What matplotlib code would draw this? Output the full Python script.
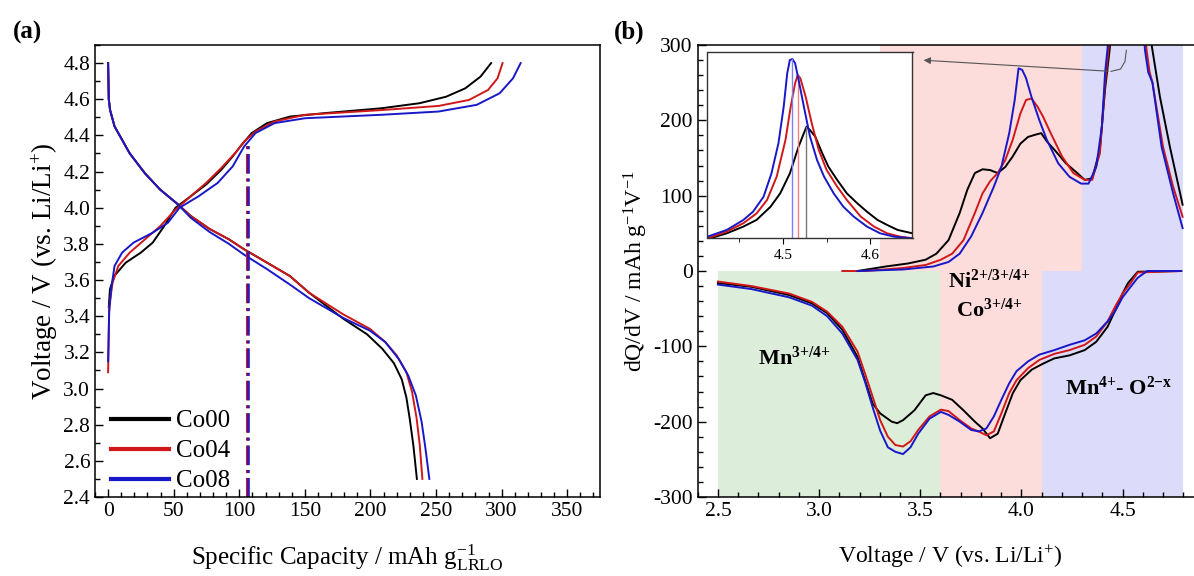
import numpy as np
import matplotlib
matplotlib.use('Agg')
import matplotlib.pyplot as plt
from matplotlib.ticker import MultipleLocator, FormatStrFormatter

plt.rcParams['font.family'] = ['Liberation Serif', 'DejaVu Serif']
plt.rcParams['mathtext.fontset'] = 'custom'
plt.rcParams['mathtext.rm'] = 'Liberation Serif'
plt.rcParams['mathtext.it'] = 'Liberation Serif:italic'
plt.rcParams['mathtext.bf'] = 'Liberation Serif:bold'
plt.rcParams['axes.unicode_minus'] = False

# ---- (a) charge / discharge profiles ----
samples = ['Co00', 'Co04', 'Co08']
colors = ['#000000', '#d01818', '#1818c8']

cap_chg = [
    [0.5, 1.4, 4.9, 13.4, 25, 34, 42.7, 51.4, 62.9, 74.7, 86.3, 95, 100.8, 109.5, 121.2, 138.6, 164.8, 208.3, 237.4, 257.7, 272.2, 283.9, 292],
    [0, 0.8, 3.4, 7.8, 16.5, 28.1, 39.7, 51.4, 62.9, 74.7, 86.3, 97.9, 103.7, 112.4, 126.9, 150.2, 208.3, 251.9, 275.1, 289.6, 296.9, 300.7],
    [0, 0.8, 2.3, 4.9, 10.7, 19.4, 34, 45.6, 54.4, 68.9, 83.5, 95, 103.7, 112.4, 126.9, 150.2, 208.3, 251.9, 281, 298.5, 308.7, 314.5],
]
v_chg = [
    [3.45, 3.55, 3.624, 3.696, 3.752, 3.807, 3.898, 4.0, 4.063, 4.128, 4.21, 4.284, 4.339, 4.413, 4.468, 4.504, 4.523, 4.55, 4.578, 4.614, 4.66, 4.725, 4.8],
    [3.09, 3.45, 3.586, 3.678, 3.752, 3.825, 3.898, 3.99, 4.063, 4.137, 4.22, 4.311, 4.366, 4.422, 4.477, 4.514, 4.54, 4.563, 4.596, 4.651, 4.716, 4.8],
    [3.15, 3.42, 3.55, 3.678, 3.752, 3.807, 3.862, 3.917, 4.0, 4.063, 4.137, 4.229, 4.339, 4.413, 4.468, 4.495, 4.514, 4.532, 4.569, 4.633, 4.716, 4.8],
]
cap_dis = [
    [0, 0.5, 1.5, 4.9, 16.5, 28.1, 39.7, 53, 62.9, 77.5, 92.1, 103.7, 121.2, 138.6, 153.2, 179.3, 197.4, 209, 217.9, 223.9, 227.4, 230, 232.8, 235.4],
    [0, 0.5, 1.5, 4.9, 16.5, 28.1, 39.7, 53, 62.9, 77.5, 92.1, 103.7, 121.2, 138.6, 153.2, 179.3, 199.6, 211.3, 220, 227.3, 231.7, 235.2, 237.6, 239.6],
    [0, 0.5, 1.5, 4.9, 16.5, 28.1, 39.7, 53, 62.9, 77.5, 92.1, 103.7, 121.2, 138.6, 153.2, 179.3, 199.6, 211.3, 221.5, 228.8, 234.6, 239, 241.9, 244.9],
]
v_dis = [
    [4.8, 4.6, 4.54, 4.45, 4.30, 4.19, 4.10, 4.02, 3.955, 3.882, 3.825, 3.77, 3.696, 3.622, 3.53, 3.386, 3.30, 3.22, 3.14, 3.05, 2.95, 2.83, 2.68, 2.5],
    [4.8, 4.6, 4.54, 4.45, 4.30, 4.19, 4.10, 4.02, 3.955, 3.882, 3.825, 3.77, 3.696, 3.622, 3.53, 3.41, 3.33, 3.257, 3.183, 3.092, 2.982, 2.835, 2.686, 2.5],
    [4.8, 4.6, 4.54, 4.45, 4.30, 4.19, 4.10, 4.02, 3.945, 3.865, 3.80, 3.74, 3.66, 3.575, 3.5, 3.39, 3.32, 3.257, 3.164, 3.072, 2.962, 2.816, 2.67, 2.5],
]
cv_cap = [105.5, 106.5]   # end of the sloping region (red / blue markers)
cv_top = 4.36

# ---- (b) dQ/dV ----
# charge, below the big peak
vb_chg = [
    [3.19, 3.33, 3.44, 3.527, 3.58, 3.64, 3.695, 3.733, 3.77, 3.808, 3.845, 3.883, 3.92, 3.957, 3.995, 4.033, 4.07, 4.098, 4.126, 4.163, 4.22, 4.276, 4.313, 4.35, 4.388],
    [3.115, 3.228, 3.415, 3.527, 3.602, 3.658, 3.714, 3.77, 3.808, 3.845, 3.883, 3.92, 3.957, 3.995, 4.023, 4.05, 4.08, 4.107, 4.145, 4.201, 4.257, 4.313, 4.35, 4.388],
    [3.19, 3.415, 3.565, 3.64, 3.695, 3.752, 3.808, 3.864, 3.901, 3.94, 3.967, 3.986, 4.004, 4.023, 4.05, 4.089, 4.126, 4.182, 4.238, 4.295, 4.332, 4.37, 4.398],
]
dq_chg = [
    [0, 6, 10, 15, 23, 41, 77, 108, 130, 135, 134, 130, 138, 152, 169, 178, 181, 183, 172, 161, 143, 130, 121, 123, 161],
    [0, 0, 4, 8, 15, 23, 41, 77, 103, 119, 130, 147, 174, 209, 227, 229, 218, 205, 183, 152, 130, 121, 121, 156],
    [0, 2, 6, 12, 23, 46, 77, 112, 138, 183, 227, 269, 267, 256, 231, 200, 174, 143, 125, 116, 116, 138, 192],
]
# the 4.5 V peak (shown in the inset)
vp = [
    [4.414, 4.436, 4.455, 4.470, 4.486, 4.497, 4.508, 4.518, 4.524, 4.527, 4.531, 4.537, 4.545, 4.552, 4.562, 4.573, 4.585, 4.596, 4.608, 4.619, 4.631, 4.648],
    [4.414, 4.436, 4.455, 4.470, 4.482, 4.493, 4.503, 4.509, 4.514, 4.517, 4.520, 4.526, 4.533, 4.541, 4.550, 4.562, 4.573, 4.589, 4.604, 4.619, 4.634, 4.648],
    [4.414, 4.436, 4.455, 4.466, 4.478, 4.487, 4.495, 4.501, 4.505, 4.508, 4.511, 4.514, 4.518, 4.524, 4.531, 4.539, 4.547, 4.558, 4.569, 4.581, 4.596, 4.611, 4.627, 4.648],
]
dqp = [
    [242, 293, 351, 408, 522, 637, 808, 1039, 1154, 1210, 1181, 1125, 981, 866, 752, 637, 551, 479, 408, 365, 322, 293],
    [250, 308, 380, 464, 580, 781, 1096, 1383, 1583, 1655, 1626, 1469, 1239, 1010, 837, 695, 580, 436, 351, 293, 264, 250],
    [264, 322, 408, 479, 608, 808, 1068, 1383, 1669, 1784, 1792, 1756, 1612, 1383, 1125, 924, 781, 637, 522, 436, 351, 293, 264, 250],
]
peak_v = [4.527, 4.517, 4.510]
peak_dq = [1210, 1655, 1792]
# charge, after the peak
vt_chg = [[4.685, 4.734, 4.797], [4.70, 4.75, 4.797], [4.693, 4.75, 4.797]]
dqt_chg = [[231, 165, 88], [165, 112, 72], [165, 103, 57]]

# discharge
vb_dis = [
    [2.5, 2.666, 2.853, 2.965, 3.04, 3.115, 3.19, 3.227, 3.265, 3.302, 3.359, 3.386, 3.415, 3.471, 3.527, 3.564, 3.602, 3.658, 3.714, 3.77, 3.808, 3.845, 3.883, 3.92, 3.958, 3.995, 4.051, 4.107, 4.163, 4.238, 4.313, 4.37, 4.426, 4.473, 4.5, 4.527, 4.575, 4.79],
    [2.5, 2.666, 2.853, 2.965, 3.04, 3.115, 3.19, 3.227, 3.265, 3.302, 3.34, 3.377, 3.415, 3.452, 3.49, 3.546, 3.602, 3.64, 3.695, 3.752, 3.789, 3.827, 3.864, 3.901, 3.94, 3.976, 4.033, 4.089, 4.163, 4.238, 4.313, 4.37, 4.426, 4.464, 4.5, 4.54, 4.575, 4.79],
    [2.5, 2.666, 2.853, 2.965, 3.04, 3.115, 3.19, 3.227, 3.265, 3.302, 3.34, 3.377, 3.415, 3.452, 3.49, 3.546, 3.602, 3.64, 3.695, 3.752, 3.789, 3.827, 3.864, 3.901, 3.94, 3.976, 4.033, 4.089, 4.163, 4.238, 4.313, 4.37, 4.426, 4.464, 4.5, 4.54, 4.575, 4.622, 4.79],
]
dq_dis = [
    [-16, -21, -32, -43, -56, -78, -114, -145, -176, -189, -200, -202, -198, -185, -165, -162, -165, -171, -185, -200, -209, -222, -216, -189, -162, -145, -131, -123, -116, -112, -105, -94, -74, -47, -30, -16, -1, 0],
    [-14, -20, -30, -41, -54, -74, -107, -136, -167, -198, -220, -231, -233, -226, -211, -193, -184, -186, -198, -209, -213, -218, -213, -189, -162, -145, -129, -118, -110, -105, -98, -87, -67, -47, -30, -16, -2, 0],
    [-18, -24, -35, -46, -60, -83, -118, -147, -181, -212, -234, -240, -243, -234, -216, -196, -187, -191, -200, -211, -213, -209, -193, -171, -149, -133, -120, -111, -105, -98, -92, -83, -67, -53, -35, -21, -9, 0, 0],
]

# shaded redox regions: (v0, v1, y0, y1, colour)
regions = [
    (2.5, 3.6, -300, 0, '#dcedda'),
    (3.6, 4.1, -300, 0, '#fddcdc'),
    (4.1, 4.8, -300, 0, '#dcdcfa'),
    (3.3, 4.3, 0, 300, '#fddcdc'),
    (4.3, 4.8, 0, 300, '#dcdcfa'),
]
region_labels = [
    (2.876, -116, r'Mn$^{\mathbf{3{+}/4{+}}}$'),
    (3.84, -14, r'Ni$^{\mathbf{2{+}/3{+}/4{+}}}$'),
    (3.84, -52, r'Co$^{\mathbf{3{+}/4{+}}}$'),
    (4.48, -155, r'Mn$^{\mathbf{4{+}}}$- O$^{\mathbf{2{-}x}}$'),
]

W, H = 1194, 576
fig = plt.figure(figsize=(W / 100, H / 100), dpi=100)

def style(ax):
    ax.tick_params(which='both', direction='in', top=False, right=False, labelsize=15.5)
    ax.tick_params(which='major', length=6, width=1)
    ax.tick_params(which='minor', length=3.5, width=1)
    for s in ax.spines.values():
        s.set_linewidth(1.1)

# ---- panel (a) ----
axa = fig.add_axes([95 / W, 1 - 497 / H, (600 - 95) / W, (497 - 45) / H])
for i in range(3):
    axa.plot(cap_chg[i], v_chg[i], color=colors[i], lw=1.4, label=samples[i])
    axa.plot(cap_dis[i], v_dis[i], color=colors[i], lw=1.4)
axa.plot([cv_cap[0], cv_cap[0]], [2.4, cv_top], color=colors[1], lw=2.2, ls='-.')
axa.plot([cv_cap[1], cv_cap[1]], [2.4, cv_top], color=colors[2], lw=2.2, ls='-.', alpha=0.8)
axa.set_xlim(-10, 375)
axa.set_ylim(2.4, 4.9)
axa.xaxis.set_major_locator(MultipleLocator(50))
axa.xaxis.set_minor_locator(MultipleLocator(10))
axa.yaxis.set_minor_locator(MultipleLocator(0.1))
axa.yaxis.set_major_formatter(FormatStrFormatter('%.1f'))
axa.set_yticks(np.arange(2.4, 4.81, 0.2))
style(axa)
axa.set_xlabel(r'Specific Capacity / mAh g$^{-1}_{\mathrm{LRLO}}$', fontsize=18, labelpad=15)
axa.set_ylabel(r'Voltage / V (vs. Li/Li$^{+}$)', fontsize=19.5, labelpad=2)
leg = axa.legend(loc='lower left', frameon=False, fontsize=18, handlelength=2.3,
                 handletextpad=0.3, labelspacing=0.3, borderaxespad=0.0,
                 bbox_to_anchor=(0.012, -0.012))
for line in leg.get_lines():
    line.set_linewidth(3)

# ---- panel (b) ----
x0 = 697.7
px_per_v = 202.3
xmax = 4.9
axb = fig.add_axes([x0 / W, 1 - 497 / H, (xmax - 2.4) * px_per_v / W, (497 - 45) / H])
for v0, v1, y0, y1, c in regions:
    axb.fill_between([v0, v1], y0, y1, color=c, lw=0, zorder=0)
for i in range(3):
    v = vb_chg[i] + vp[i] + vt_chg[i]
    d = dq_chg[i] + dqp[i] + dqt_chg[i]
    axb.plot(v, d, color=colors[i], lw=1.4, zorder=2)
    axb.plot(vb_dis[i], dq_dis[i], color=colors[i], lw=1.4, zorder=2)
for x, y, t in region_labels:
    axb.text(x, y, t, fontsize=16, fontweight='bold', ha='center', va='center', zorder=3)
axb.set_xlim(2.4, xmax)
axb.set_ylim(-300, 300)
axb.xaxis.set_minor_locator(MultipleLocator(0.1))
axb.xaxis.set_major_formatter(FormatStrFormatter('%.1f'))
axb.set_xticks([2.5, 3.0, 3.5, 4.0, 4.5])
axb.yaxis.set_major_locator(MultipleLocator(100))
axb.yaxis.set_minor_locator(MultipleLocator(20))
axb.spines['right'].set_visible(False)
style(axb)
axb.set_xlabel(r'Voltage / V (vs. Li/Li$^{+}$)', fontsize=17, labelpad=16)
axb.set_ylabel(r'dQ/dV / mAh g$^{-1}$V$^{-1}$', fontsize=17, labelpad=2)

# arrow from the 4.5 V peak to the inset
axb.plot([4.519, 4.512, 4.49, 4.443], [293, 278, 268, 265], color='#555555', lw=0.8, zorder=3)
axb.annotate('', xy=(3.503, 280), xytext=(4.443, 265),
             arrowprops=dict(arrowstyle='-|>', color='#555555', lw=0.8,
                             mutation_scale=10), zorder=3)

# ---- inset ----
axi = fig.add_axes([707.5 / W, 1 - 238.3 / H, (912.5 - 707.5) / W, (238.3 - 52.3) / H])
axi.set_facecolor('white')
line_cols = ['#777777', '#f08080', '#8080f0']
for i in range(3):
    axi.plot(vp[i], dqp[i], color=colors[i], lw=1.4)
    axi.plot([peak_v[i], peak_v[i]], [200, peak_dq[i]], color=line_cols[i], lw=1.0)
axi.set_xlim(4.414, 4.648)
axi.set_ylim(250, 1850)
axi.set_yticks([])
axi.xaxis.set_major_locator(MultipleLocator(0.1))
axi.xaxis.set_minor_locator(MultipleLocator(0.05))
axi.xaxis.set_major_formatter(FormatStrFormatter('%.1f'))
axi.tick_params(which='both', direction='out', labelsize=11, top=False)
axi.tick_params(which='major', length=4)
axi.tick_params(which='minor', length=3)
for s in axi.spines.values():
    s.set_linewidth(1.0)
    s.set_color('#333333')

fig.text(27 / W, 1 - 32 / H, '(a)', fontsize=18, fontweight='bold', ha='center', va='center')
fig.text(629 / W, 1 - 32 / H, '(b)', fontsize=18, fontweight='bold', ha='center', va='center')

fig.savefig('out.png', dpi=100)
